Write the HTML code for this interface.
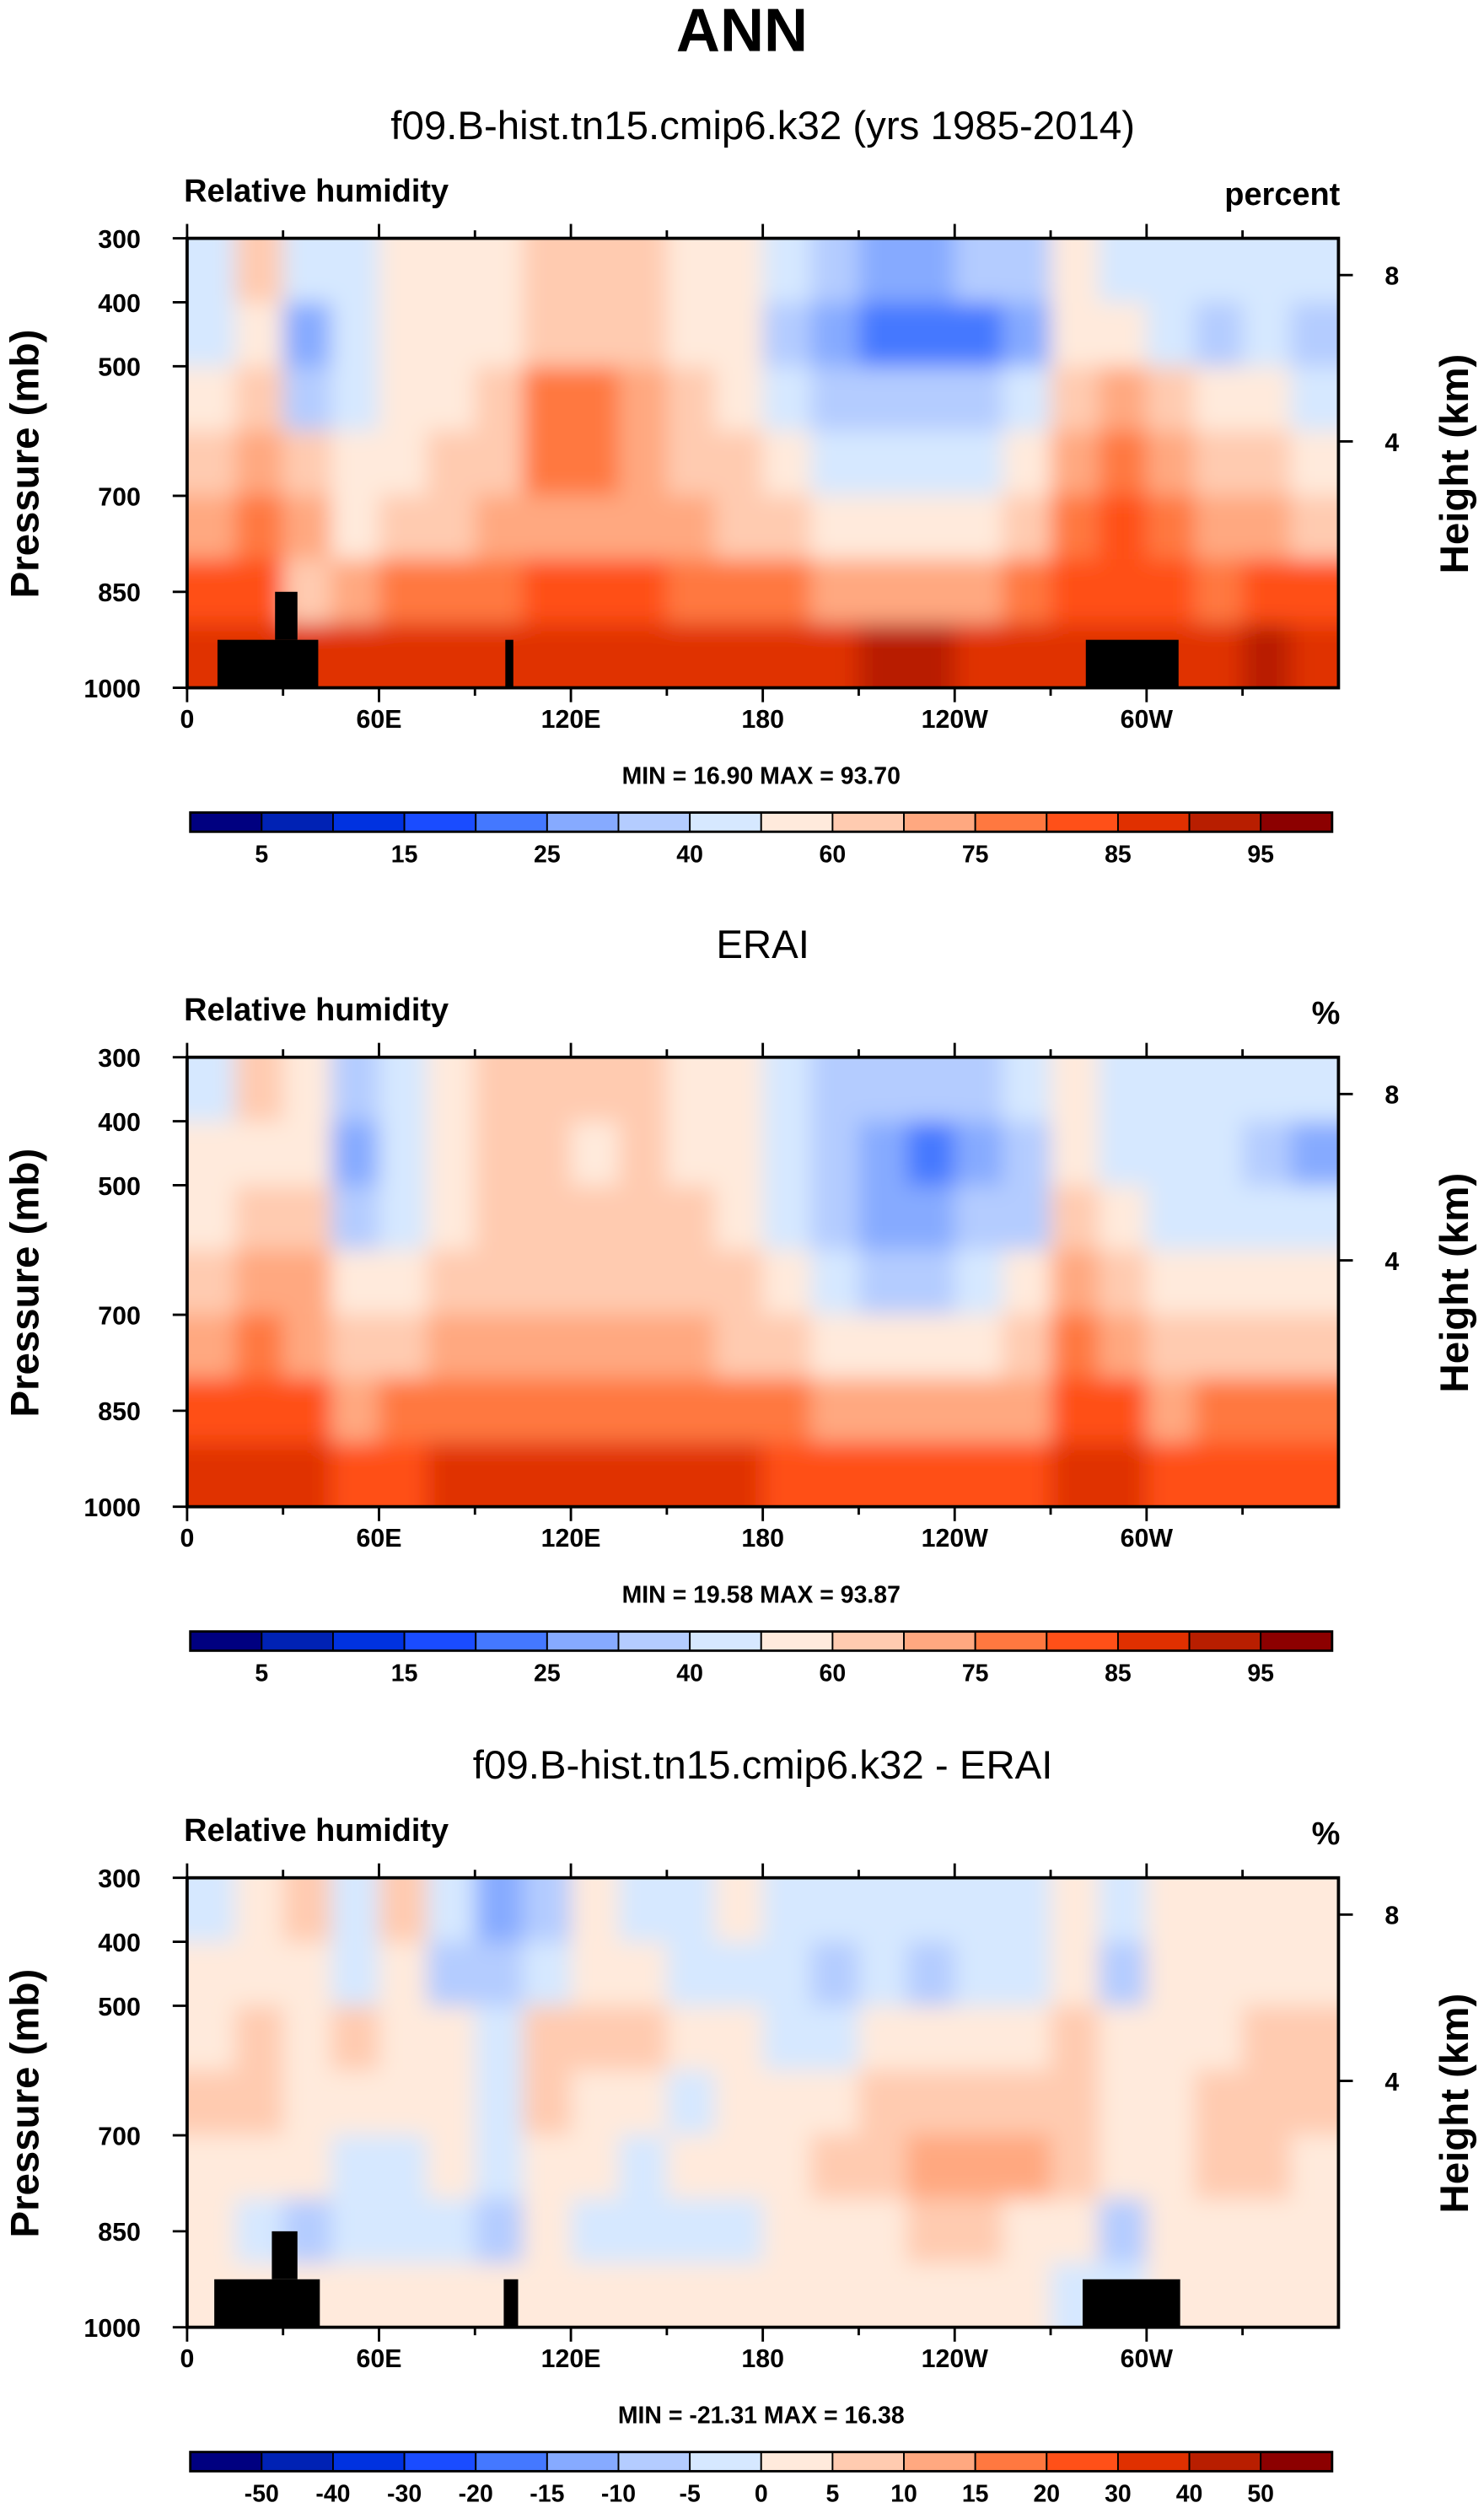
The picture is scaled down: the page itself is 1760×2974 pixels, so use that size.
<!DOCTYPE html>
<html><head><meta charset="utf-8"><style>
html,body{margin:0;padding:0;background:#fff}
svg{display:block}
text{font-family:"Liberation Sans",Arial,sans-serif;fill:#000}
.b{font-weight:bold}
</style></head><body>
<svg id="fig" width="1760" height="2974" viewBox="0 0 928 1568" preserveAspectRatio="none" xmlns="http://www.w3.org/2000/svg">
<defs>
<filter id="soft" x="-5%" y="-5%" width="110%" height="110%"><feGaussianBlur stdDeviation="7" edgeMode="duplicate"/></filter>
</defs>
<text x="464" y="32" text-anchor="middle" class="b" font-size="38">ANN</text>
</svg>
<script>
const lonCats=["0","15E","30E","45E","60E","75E","90E","105E","120E","135E","150E","165E","180","165W","150W","135W","120W","105W","90W","75W","60W","45W","30W","15W"];
const levRows=["300-400","400-450","450-550","550-700","700-800","800-900","900-1000"];
const xTickLabels=["0","60E","120E","180","120W","60W"];
const xTickLon=[0,60,120,180,240,300];
const pTickLabels=["300","400","500","700","850","1000"];
const hTickLabels=["8","4"];
const rhLevels=[5,10,15,20,25,30,40,50,60,70,75,80,85,90,95];
const rhBarLabels=["5","15","25","40","60","75","85","95"];
const diffLevels=[-50,-40,-30,-20,-15,-10,-5,0,5,10,15,20,30,40,50];
const diffBarLabels=["-50","-40","-30","-20","-15","-10","-5","0","5","10","15","20","30","40","50"];
const modelRH=[
[45,45,55,65,72,82,87],[65,55,65,72,77,82,87],[45,27,35,65,72,65,87],[45,45,45,55,55,72,87],
[55,55,55,55,65,77,87],[55,55,55,65,65,77,87],[55,55,65,65,72,77,87],[65,65,77,77,72,82,87],
[65,65,77,77,72,82,87],[65,65,72,72,72,82,87],[55,55,65,65,72,77,87],[55,55,55,65,65,77,87],
[45,35,45,55,65,77,87],[35,27,35,45,55,72,87],[27,22,35,45,55,72,92],[27,22,35,45,55,72,92],
[35,22,35,45,55,72,87],[35,27,45,55,65,77,87],[55,55,65,72,77,82,87],[45,55,72,77,82,82,87],
[45,45,65,72,77,82,87],[45,35,55,65,72,77,87],[45,45,55,65,72,82,92],[45,35,45,55,65,82,87]];
const eraiRH=[
[45,55,55,65,72,82,87],[65,55,65,72,77,82,87],[55,55,65,72,72,82,87],[35,27,35,55,65,72,82],
[45,45,45,55,65,77,82],[55,55,55,65,72,77,87],[65,65,65,65,72,77,87],[65,65,65,65,72,77,87],
[65,55,65,65,72,77,87],[65,65,65,65,72,77,87],[55,55,65,65,72,77,87],[55,55,55,65,65,77,87],
[45,45,45,55,65,77,82],[35,35,35,45,55,72,82],[35,27,27,35,55,72,82],[35,22,27,35,55,72,82],
[35,27,35,45,55,72,82],[45,35,35,55,65,72,82],[55,55,65,72,77,82,87],[45,45,55,65,72,82,87],
[45,45,45,55,65,72,82],[45,45,45,55,65,77,82],[45,35,45,55,65,77,82],[45,27,45,55,65,77,82]];
const diffRH=[
[-2,2,2,7,2,2,2],[2,2,7,7,2,-2,2],[7,2,2,2,2,-7,2],[-2,-2,7,2,-2,-2,2],
[7,2,2,2,-2,-2,2],[-2,-7,2,2,2,-2,2],[-12,-7,-2,-2,-2,-7,2],[-7,-2,7,7,2,2,2],
[2,2,7,2,2,-2,2],[-2,2,7,2,-2,-2,2],[-2,-2,2,-2,2,-2,2],[2,-2,2,2,2,-2,2],
[-2,-2,-2,2,2,2,2],[-2,-7,-2,2,7,2,2],[-2,-2,2,7,7,2,2],[-2,-7,2,7,12,7,2],
[-2,-2,2,7,12,7,2],[-2,-2,2,7,12,2,2],[2,2,7,7,7,2,-2],[-2,-7,2,2,2,-7,-2],
[2,2,2,2,2,2,2],[2,2,2,7,7,2,2],[2,2,7,7,7,2,2],[2,2,7,7,2,2,2]];
const colors=["#000080","#0022b4","#0032e0","#1a4cff","#4478ff","#86aaff","#b4ccff","#d6e8ff","#ffeadc","#ffcbb0","#ffa880","#ff7840","#ff5018","#e03000","#b81e00","#8c0000"];

const NS="http://www.w3.org/2000/svg";
const svg=document.getElementById('fig');
function el(tag,attrs,parent){const e=document.createElementNS(NS,tag);for(const k in attrs)e.setAttribute(k,attrs[k]);(parent||svg).appendChild(e);return e;}
function txt(s,attrs,parent){const e=el('text',attrs,parent);e.textContent=s;return e;}
const X0=117,X1=837,H=281;
const xScale=lon=>X0+(lon/360)*(X1-X0);
function colorFor(v,levels){let i=0;while(i<levels.length&&v>=levels[i])i++;return colors[i];}
let pid=0;
function panel(top,opts){
  pid++;
  const g=el('g',{});
  
  
  const t=txt(opts.title,{x:477,y:top-62,'text-anchor':'middle','font-size':25},g);
  
  
  const v=txt('Relative humidity',{x:115,y:top-23,'font-size':20,class:'b'},g);
  
  
  const u=txt(opts.units,{x:838,y:top-21,'text-anchor':'end','font-size':20,class:'b'},g);
  
  
  const cp=el('clipPath',{id:'clip'+pid},g);
  el('rect',{x:X0,y:top,width:X1-X0,height:H},cp);
  const clipG=el('g',{'clip-path':`url(#clip${pid})`},g);
  const ny=levRows.length,ch=H/ny;
  const cells=el('g',{filter:'url(#soft)'},clipG);
  
  
  opts.data.forEach((col,i)=>{col.forEach((val,j)=>{
    let x=xScale(i*15),w=xScale((i+1)*15)-x;
    let y=top+j*ch,h=ch;
    if(i===0){x-=20;w+=20;} if(i===opts.data.length-1){w+=20;}
    if(j===0){y-=20;h+=20;} if(j===col.length-1){h+=20;}
    const r=el('rect',{x:x,y:y,width:w+0.6,height:h+0.6,fill:colorFor(val,opts.levels)},cells);
    
    
  });});
  if(opts.terrain){opts.terrain.forEach(tr=>{
    const r=el('rect',{x:tr[0],y:top+tr[1],width:tr[2],height:tr[3],fill:'#000'},g);
    
    
  });}
  const fr=el('rect',{x:X0,y:top,width:X1-X0,height:H,fill:'none',stroke:'#000','stroke-width':2},g);
  
  
  for(let lon=0;lon<=330;lon+=30){
    const x=xScale(lon),len=lon%60===0?9:5;
    el('line',{x1:x,y1:top,x2:x,y2:top-len,stroke:'#000','stroke-width':1.5},g);
    el('line',{x1:x,y1:top+H,x2:x,y2:top+H+len,stroke:'#000','stroke-width':1.5},g);
  }
  xTickLabels.forEach((s,i)=>{
    const l=txt(s,{x:xScale(xTickLon[i]),y:top+H+25,'text-anchor':'middle','font-size':16,class:'b'},g);
    
    
  });
  const pY=[0,40,80,161,221,281];
  pTickLabels.forEach((s,i)=>{
    el('line',{x1:X0,y1:top+pY[i],x2:X0-9,y2:top+pY[i],stroke:'#000','stroke-width':1.5},g);
    const l=txt(s,{x:88,y:top+pY[i]+6,'text-anchor':'end','font-size':16,class:'b'},g);
    
    
  });
  const hY=[23,127];
  hTickLabels.forEach((s,i)=>{
    el('line',{x1:X1,y1:top+hY[i],x2:X1+9,y2:top+hY[i],stroke:'#000','stroke-width':1.5},g);
    const l=txt(s,{x:866,y:top+hY[i]+6,'font-size':16,class:'b'},g);
    
    
  });
  const yt=txt('Pressure (mb)',{x:0,y:0,'text-anchor':'middle','font-size':25,class:'b',transform:`translate(24,${top+141}) rotate(-90)`},g);
  
  
  const ht=txt('Height (km)',{x:0,y:0,'text-anchor':'middle','font-size':25,class:'b',transform:`translate(918,${top+141}) rotate(-90)`},g);
  
  
  const mm=txt(opts.minmax,{x:476,y:top+H+60,'text-anchor':'middle','font-size':15,class:'b'},g);
  
  
  const cb=el('g',{},g);
  
  
  const by=top+H+78,bx=119,bw=714/16;
  colors.forEach((c,i)=>{
    const r=el('rect',{x:bx+i*bw,y:by,width:bw,height:12,fill:c,stroke:'#000','stroke-width':1},cb);
    
    
  });
  el('rect',{x:bx,y:by,width:714,height:12,fill:'none',stroke:'#000','stroke-width':1.5},cb);
  opts.barLabels.forEach((s,i)=>{
    const idx=opts.levels.indexOf(Number(s));
    const l=txt(s,{x:bx+(idx+1)*bw,y:by+31,'text-anchor':'middle','font-size':15,class:'b'},cb);
    
    
  });
}
const terr=[[136,251,63,30],[172,221,14,30],[316,251,5,30],[679,251,58,30]];
panel(149,{name:'model-panel',title:'f09.B-hist.tn15.cmip6.k32 (yrs 1985-2014)',units:'percent',data:modelRH,levels:rhLevels,barLabels:rhBarLabels,minmax:'MIN =  16.90   MAX =  93.70',terrain:terr});
panel(661,{name:'erai-panel',title:'ERAI',units:'%',data:eraiRH,levels:rhLevels,barLabels:rhBarLabels,minmax:'MIN =  19.58   MAX =  93.87'});
panel(1174,{name:'diff-panel',title:'f09.B-hist.tn15.cmip6.k32 - ERAI',units:'%',data:diffRH,levels:diffLevels,barLabels:diffBarLabels,minmax:'MIN = -21.31   MAX =  16.38',terrain:[[134,251,66,30],[170,221,16,30],[315,251,9,30],[677,251,61,30]]});
</script>
</body></html>
